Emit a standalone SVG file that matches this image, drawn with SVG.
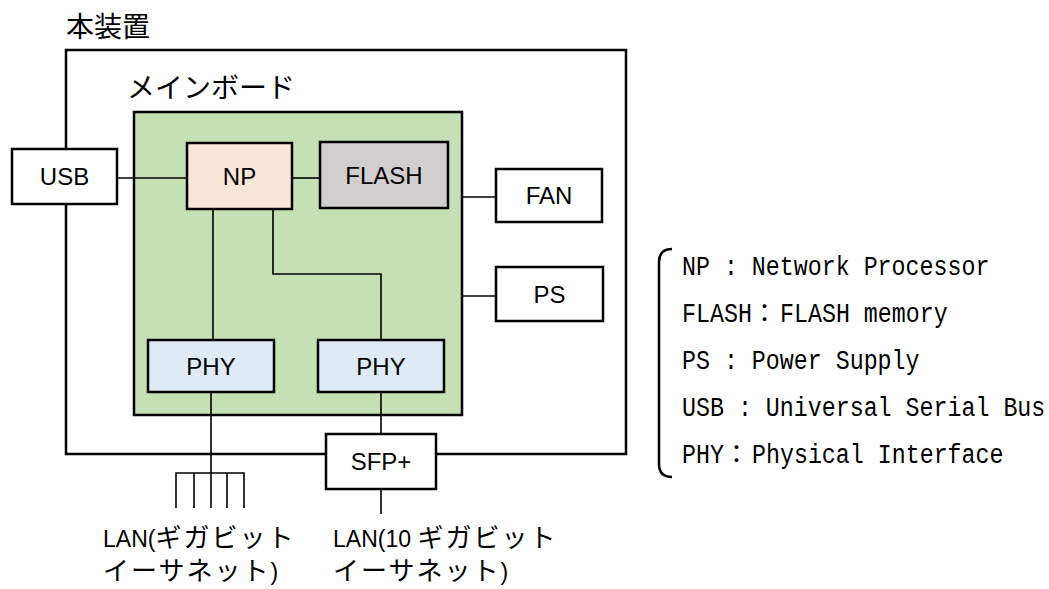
<svg xmlns="http://www.w3.org/2000/svg" width="1049" height="589" viewBox="0 0 1049 589">
<style>
.box{stroke:#000;stroke-width:2.5}
.lbl{font-family:"Liberation Sans",Arial,sans-serif;font-size:24px;text-anchor:middle;fill:#000}
.jp{font-family:"Noto Sans CJK JP",sans-serif;fill:#000}
.jl{font-family:"Noto Sans CJK JP",sans-serif;font-size:26px;letter-spacing:2px;fill:#000}
.la{font-family:"Liberation Sans",Arial,sans-serif;font-size:23px;fill:#000}
.ln{stroke:#000;stroke-width:1.6;fill:none}
.lg{font-family:"Liberation Mono","Courier New",monospace;font-size:23.3px;fill:#000}
</style>
<rect width="1049" height="589" fill="#fff"/>
<g id="device">
<rect x="66" y="50" width="560" height="404" fill="#fff" stroke="#000" stroke-width="2.5"/>
<text x="66" y="37" class="jp" font-size="28">本装置</text>
</g>
<g id="mainboard">
<rect x="134" y="112" width="328" height="303" fill="#c5e0b4" class="box"/>
<text x="127" y="98" class="jp" font-size="28">メインボード</text>
</g>
<g id="connectors">
<line class="ln" x1="117" y1="178" x2="187" y2="178"/>
<line class="ln" x1="292" y1="178" x2="320" y2="178"/>
<line class="ln" x1="462" y1="197" x2="496" y2="197"/>
<line class="ln" x1="462" y1="296" x2="496" y2="296"/>
<line class="ln" x1="213" y1="209" x2="213" y2="340"/>
<path class="ln" d="M273 209V274H381V340"/>
<line class="ln" x1="211" y1="392" x2="211" y2="508"/>
<path class="ln" d="M176 508V473H244V508M194 473V508M227 473V508"/>
<line class="ln" x1="381" y1="392" x2="381" y2="434"/>
<line class="ln" x1="381" y1="489" x2="381" y2="514"/>
</g>
<g id="usb">
<rect x="12" y="149" width="105" height="55" fill="#fff" class="box"/>
<text x="64.5" y="185" class="lbl">USB</text>
</g>
<g id="np">
<rect x="187" y="143" width="105" height="66" fill="#fbe5d6" class="box"/>
<text x="239.5" y="184.5" class="lbl">NP</text>
</g>
<g id="flash">
<rect x="320" y="142" width="128" height="66" fill="#d0cece" class="box"/>
<text x="384" y="184" class="lbl">FLASH</text>
</g>
<g id="fan">
<rect x="496" y="169" width="106" height="53" fill="#fff" class="box"/>
<text x="549" y="204" class="lbl">FAN</text>
</g>
<g id="ps">
<rect x="496" y="267" width="107" height="54" fill="#fff" class="box"/>
<text x="549.5" y="302.5" class="lbl">PS</text>
</g>
<g id="phy1">
<rect x="148" y="340" width="126" height="52" fill="#deebf7" class="box"/>
<text x="211" y="374.5" class="lbl">PHY</text>
</g>
<g id="phy2">
<rect x="318" y="340" width="126" height="52" fill="#deebf7" class="box"/>
<text x="381" y="374.5" class="lbl">PHY</text>
</g>
<g id="sfp">
<rect x="326" y="434" width="110" height="55" fill="#fff" class="box"/>
<text x="381" y="470" class="lbl">SFP+</text>
</g>
<g id="lan1">
<text x="103" y="547"><tspan class="la">LAN(</tspan><tspan class="jl">ギガビット</tspan></text>
<text x="103" y="580"><tspan class="jl">イーサネット</tspan><tspan class="la">)</tspan></text>
</g>
<g id="lan2">
<text x="333" y="547"><tspan class="la">LAN(10 </tspan><tspan class="jl">ギガビット</tspan></text>
<text x="333" y="580"><tspan class="jl">イーサネット</tspan><tspan class="la">)</tspan></text>
</g>
<g id="legend">
<path d="M672 249Q659 249 659 262V464Q659 477 672 477" fill="none" stroke="#000" stroke-width="2.5"/>
<text class="lg" transform="translate(682 275) scale(1 1.2)">NP : Network Processor</text>
<text class="lg" transform="translate(682 322) scale(1 1.2)">FLASH</text>
<text class="jp" x="752" y="322" font-size="25">：</text>
<text class="lg" transform="translate(780 322) scale(1 1.2)">FLASH memory</text>
<text class="lg" transform="translate(682 369) scale(1 1.2)">PS : Power Supply</text>
<text class="lg" transform="translate(682 416) scale(1 1.2)">USB : Universal Serial Bus</text>
<text class="lg" transform="translate(682 463) scale(1 1.2)">PHY</text>
<text class="jp" x="724" y="463" font-size="25">：</text>
<text class="lg" transform="translate(752 463) scale(1 1.2)">Physical Interface</text>
</g>
</svg>
